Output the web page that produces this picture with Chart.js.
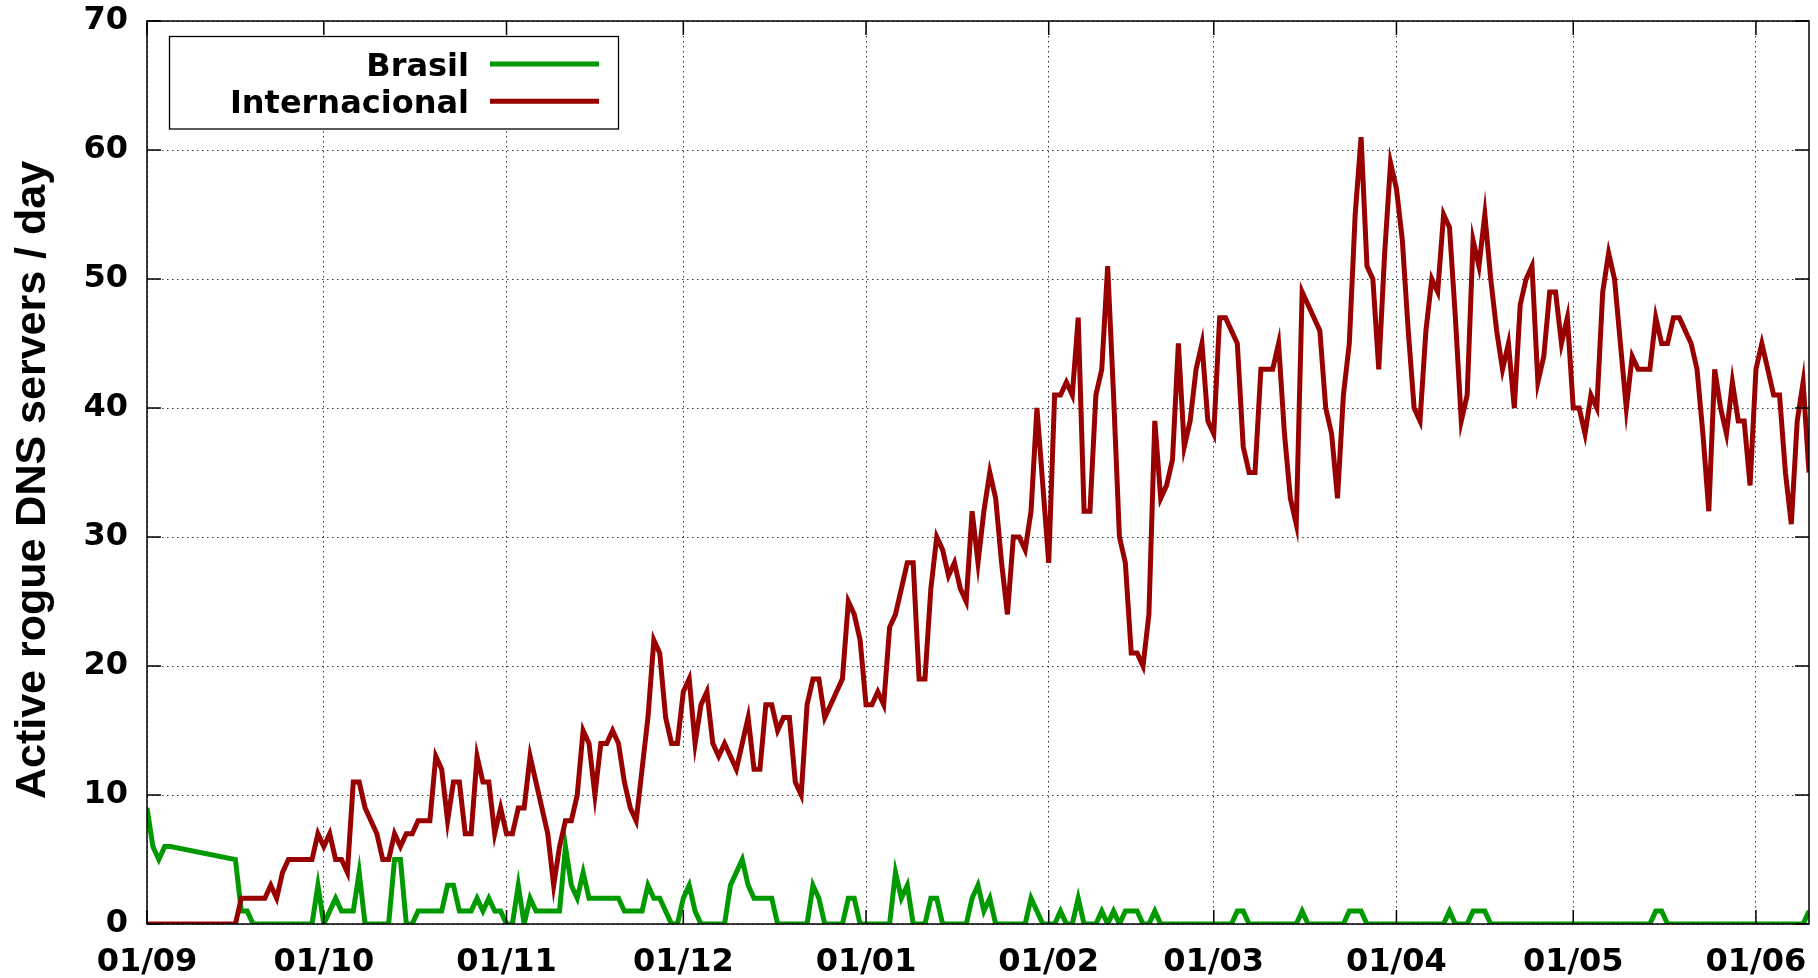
<!DOCTYPE html>
<html>
<head>
<meta charset="utf-8">
<script src="https://cdn.jsdelivr.net/npm/chart.js@4.4.1/dist/chart.umd.min.js"></script>
<style>
html,body{margin:0;padding:0;background:#fff;}
#wrap{width:1818px;height:978px;position:relative;}
canvas{display:block;}
</style>
</head>
<body>
<div id="wrap"><canvas id="c" width="1818" height="978"></canvas></div>
<script>
// x tick positions: days elapsed since 01/09
const tickDays = [0, 30, 61, 91, 122, 153, 181, 212, 242, 273];
const tickLabels = ['01/09', '01/10', '01/11', '01/12', '01/01', '01/02', '01/03', '01/04', '01/05', '01/06'];
const seriesNames = ['Brasil', 'Internacional'];
const yTitle = 'Active rogue DNS servers / day';

// day index (days since 01/09) of each sample
const days = [0, 1, 2, 3, 4,
  15, 16, 17, 18, 19, 20, 21, 22, 23, 24,
  25, 26, 27, 28, 29, 30, 31, 32, 33, 34,
  35, 36, 37, 38, 39, 40, 41, 42, 43, 44,
  45, 46, 47, 48, 49, 50, 51, 52, 53, 54,
  55, 56, 57, 58, 59, 60, 61, 62, 63, 64,
  65, 66, 67, 68, 69, 70, 71, 72, 73, 74,
  75, 76, 77, 78, 79, 80, 81, 82, 83, 84,
  85, 86, 87, 88, 89, 90, 91, 92, 93, 94,
  95, 96, 97, 98, 99, 100, 101, 102, 103, 104,
  105, 106, 107, 108, 109, 110, 111, 112, 113, 114,
  115, 116, 117, 118, 119, 120, 121, 122, 123, 124,
  125, 126, 127, 128, 129, 130, 131, 132, 133, 134,
  135, 136, 137, 138, 139, 140, 141, 142, 143, 144,
  145, 146, 147, 148, 149, 150, 151, 152, 153, 154,
  155, 156, 157, 158, 159, 160, 161, 162, 163, 164,
  165, 166, 167, 168, 169, 170, 171, 172, 173, 174,
  175, 176, 177, 178, 179, 180, 181, 182, 183, 184,
  185, 186, 187, 188, 189, 190, 191, 192, 193, 194,
  195, 196, 197, 198, 199, 200, 201, 202, 203, 204,
  205, 206, 207, 208, 209, 210, 211, 212, 213, 214,
  215, 216, 217, 218, 219, 220, 221, 222, 223, 224,
  225, 226, 227, 228, 229, 230, 231, 232, 233, 234,
  235, 236, 237, 238, 239, 240, 241, 242, 243, 244,
  245, 246, 247, 248, 249, 250, 251, 252, 253, 254,
  255, 256, 257, 258, 259, 260, 261, 262, 263, 264,
  265, 266, 267, 268, 269, 270, 271, 272, 273, 274,
  275, 276, 277, 278, 279, 280, 281, 282];

const brasil = [9, 6, 5, 6, 6,
  5, 1, 1, 0, 0, 0, 0, 0, 0, 0,
  0, 0, 0, 0, 3, 0, 1, 2, 1, 1,
  1, 4, 0, 0, 0, 0, 0, 5, 5, 0,
  0, 1, 1, 1, 1, 1, 3, 3, 1, 1,
  1, 2, 1, 2, 1, 1, 0, 0, 3, 0,
  2, 1, 1, 1, 1, 1, 6, 3, 2, 4,
  2, 2, 2, 2, 2, 2, 1, 1, 1, 1,
  3, 2, 2, 1, 0, 0, 2, 3, 1, 0,
  0, 0, 0, 0, 3, 4, 5, 3, 2, 2,
  2, 2, 0, 0, 0, 0, 0, 0, 3, 2,
  0, 0, 0, 0, 2, 2, 0, 0, 0, 0,
  0, 0, 4, 2, 3, 0, 0, 0, 2, 2,
  0, 0, 0, 0, 0, 2, 3, 1, 2, 0,
  0, 0, 0, 0, 0, 2, 1, 0, 0, 0,
  1, 0, 0, 2, 0, 0, 0, 1, 0, 1,
  0, 1, 1, 1, 0, 0, 1, 0, 0, 0,
  0, 0, 0, 0, 0, 0, 0, 0, 0, 0,
  1, 1, 0, 0, 0, 0, 0, 0, 0, 0,
  0, 1, 0, 0, 0, 0, 0, 0, 0, 1,
  1, 1, 0, 0, 0, 0, 0, 0, 0, 0,
  0, 0, 0, 0, 0, 0, 1, 0, 0, 0,
  1, 1, 1, 0, 0, 0, 0, 0, 0, 0,
  0, 0, 0, 0, 0, 0, 0, 0, 0, 0,
  0, 0, 0, 0, 0, 0, 0, 0, 0, 0,
  0, 1, 1, 0, 0, 0, 0, 0, 0, 0,
  0, 0, 0, 0, 0, 0, 0, 0, 0, 0,
  0, 0, 0, 0, 0, 0, 0, 1];

const internacional = [0, 0, 0, 0, 0,
  0, 2, 2, 2, 2, 2, 3, 2, 4, 5,
  5, 5, 5, 5, 7, 6, 7, 5, 5, 4,
  11, 11, 9, 8, 7, 5, 5, 7, 6, 7,
  7, 8, 8, 8, 13, 12, 8, 11, 11, 7,
  7, 13, 11, 11, 7, 9, 7, 7, 9, 9,
  13, 11, 9, 7, 3, 6, 8, 8, 10, 15,
  14, 10, 14, 14, 15, 14, 11, 9, 8, 12,
  16, 22, 21, 16, 14, 14, 18, 19, 14, 17,
  18, 14, 13, 14, 13, 12, 14, 16, 12, 12,
  17, 17, 15, 16, 16, 11, 10, 17, 19, 19,
  16, 17, 18, 19, 25, 24, 22, 17, 17, 18,
  17, 23, 24, 26, 28, 28, 19, 19, 26, 30,
  29, 27, 28, 26, 25, 32, 28, 32, 35, 33,
  28, 24, 30, 30, 29, 32, 40, 34, 28, 41,
  41, 42, 41, 47, 32, 32, 41, 43, 51, 41,
  30, 28, 21, 21, 20, 24, 39, 33, 34, 36,
  45, 37, 39, 43, 45, 39, 38, 47, 47, 46,
  45, 37, 35, 35, 43, 43, 43, 45, 38, 33,
  31, 49, 48, 47, 46, 40, 38, 33, 41, 45,
  55, 61, 51, 50, 43, 52, 59, 57, 53, 46,
  40, 39, 46, 50, 49, 55, 54, 47, 39, 41,
  53, 51, 55, 50, 46, 43, 45, 40, 48, 50,
  51, 42, 44, 49, 49, 45, 47, 40, 40, 38,
  41, 40, 49, 52, 50, 45, 40, 44, 43, 43,
  43, 47, 45, 45, 47, 47, 46, 45, 43, 38,
  32, 43, 40, 38, 42, 39, 39, 34, 43, 45,
  43, 41, 41, 35, 31, 39, 42, 35];

const GREEN = '#009a00';
const RED = '#990000';

const framePlugin = {
  id: 'frameTicksLegend',
  afterDatasetsDraw(chart) {
    const { ctx, chartArea: a, scales } = chart;
    const xs = scales.x, ys = scales.y;
    ctx.save();
    ctx.setLineDash([]);
    ctx.strokeStyle = '#000';
    ctx.lineWidth = 1.5;
    const L = 14;
    ctx.beginPath();
    ys.ticks.forEach(t => {
      const py = ys.getPixelForValue(t.value);
      ctx.moveTo(a.left, py); ctx.lineTo(a.left + L, py);
      ctx.moveTo(a.right, py); ctx.lineTo(a.right - L, py);
    });
    xs.ticks.forEach(t => {
      const px = xs.getPixelForValue(t.value);
      ctx.moveTo(px, a.bottom); ctx.lineTo(px, a.bottom - L);
      ctx.moveTo(px, a.top); ctx.lineTo(px, a.top + L);
    });
    ctx.stroke();
    ctx.strokeRect(a.left, a.top, a.right - a.left, a.bottom - a.top);

    // legend box
    const bx = a.left + 22.5, by = a.top + 15.5, bw = 449, bh = 92.5;
    ctx.fillStyle = '#fff';
    ctx.fillRect(bx, by, bw, bh);
    ctx.lineWidth = 1.3;
    ctx.strokeRect(bx, by, bw, bh);
    const fs = 32;
    ctx.font = 'bold ' + fs + 'px "DejaVu Sans"';
    ctx.textAlign = 'right';
    ctx.textBaseline = 'alphabetic';
    ctx.fillStyle = '#000';
    const rows = [{ name: seriesNames[0], color: GREEN, cy: by + 27.5 },
                  { name: seriesNames[1], color: RED, cy: by + 64.8 }];
    rows.forEach(r => {
      ctx.fillText(r.name, bx + 299.5, r.cy + fs * 0.3645);
      ctx.strokeStyle = r.color;
      ctx.lineWidth = 5;
      ctx.beginPath();
      ctx.moveTo(bx + 320.5, r.cy);
      ctx.lineTo(bx + 429.5, r.cy);
      ctx.stroke();
    });

    // y axis title
    ctx.save();
    ctx.translate(33, 480);
    ctx.rotate(-Math.PI / 2);
    ctx.font = 'bold 43px "Liberation Sans"';
    ctx.textAlign = 'center';
    ctx.textBaseline = 'middle';
    ctx.fillStyle = '#000';
    ctx.fillText(yTitle, 0, 0);
    ctx.restore();

    ctx.restore();
  }
};

new Chart(document.getElementById('c'), {
  type: 'line',
  data: {
    datasets: [
      {
        label: seriesNames[1],
        data: days.map((d, i) => ({ x: d, y: internacional[i] })),
        borderColor: RED,
        backgroundColor: RED,
        borderWidth: 5,
        pointRadius: 0,
        tension: 0,
        fill: false,
        order: 0
      },
      {
        label: seriesNames[0],
        data: days.map((d, i) => ({ x: d, y: brasil[i] })),
        borderColor: GREEN,
        backgroundColor: GREEN,
        borderWidth: 5,
        pointRadius: 0,
        tension: 0,
        fill: false,
        order: 1
      }
    ]
  },
  options: {
    responsive: false,
    animation: false,
    devicePixelRatio: 1,
    layout: { padding: { left: 0, right: 9, top: 21, bottom: 0 } },
    plugins: { legend: { display: false }, tooltip: { enabled: false } },
    scales: {
      x: {
        type: 'linear',
        min: 0,
        max: 282,
        afterBuildTicks: s => { s.ticks = tickDays.map(v => ({ value: v })); },
        afterFit: s => { s.height = 54; s.paddingLeft = 0; s.paddingRight = 0; },
        ticks: {
          autoSkip: false,
          maxRotation: 0,
          padding: 19,
          color: '#000',
          font: { family: 'DejaVu Sans', weight: 'bold', size: 32 },
          callback: v => tickLabels[tickDays.indexOf(v)]
        },
        grid: { color: '#333', lineWidth: 1, drawTicks: false },
        border: { display: false, dash: [1.5, 3.5] }
      },
      y: {
        min: 0,
        max: 70,
        afterFit: s => { s.width = 147; s.paddingTop = 0; s.paddingBottom = 0; },
        ticks: {
          stepSize: 10,
          padding: 19,
          color: '#000',
          font: { family: 'DejaVu Sans', weight: 'bold', size: 32 }
        },
        grid: { color: '#333', lineWidth: 1, drawTicks: false },
        border: { display: false, dash: [1.5, 3.5] }
      }
    }
  },
  plugins: [framePlugin]
});
</script>
</body>
</html>
